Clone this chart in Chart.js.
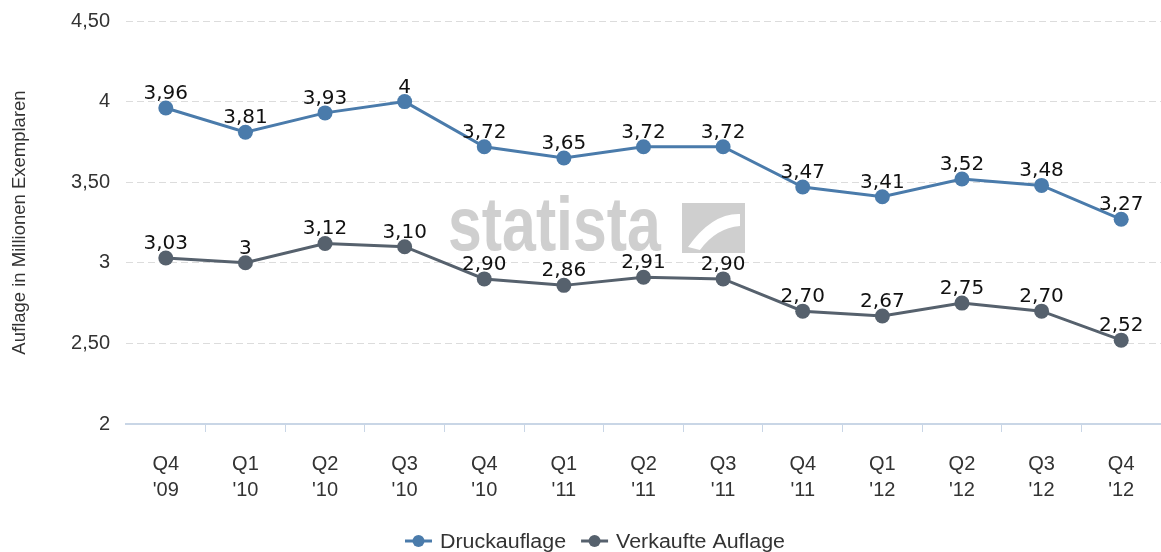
<!DOCTYPE html>
<html>
<head>
<meta charset="utf-8">
<script src="https://cdn.jsdelivr.net/npm/chart.js@4.4.1/dist/chart.umd.min.js"></script>
<style>
  html, body { margin: 0; padding: 0; background: #fff; overflow: hidden; }
  #wrap { width: 1161px; height: 552px; }
</style>
</head>
<body>
<div id="wrap"><canvas id="chart"></canvas></div>
<script>
// Quarterly circulation, millions of copies
const QUARTERS = [
  ['Q4', "'09"], ['Q1', "'10"], ['Q2', "'10"], ['Q3', "'10"], ['Q4', "'10"],
  ['Q1', "'11"], ['Q2', "'11"], ['Q3', "'11"], ['Q4', "'11"],
  ['Q1', "'12"], ['Q2', "'12"], ['Q3', "'12"], ['Q4', "'12"],
];
const DRUCKAUFLAGE = [3.96, 3.81, 3.93, 4, 3.72, 3.65, 3.72, 3.72, 3.47, 3.41, 3.52, 3.48, 3.27];
const VERKAUFTE = [3.03, 3, 3.12, 3.10, 2.90, 2.86, 2.91, 2.90, 2.70, 2.67, 2.75, 2.70, 2.52];
const Y_TICKS = [2, 2.5, 3, 3.5, 4, 4.5];

const BLUE = '#4a7bab';
const GREY = '#56616d';
const TEXT = '#333333';
const AXIS = '#c9d6e6';

function fmt(v) {
  return Number.isInteger(v) ? String(v) : v.toFixed(2).replace('.', ',');
}

// value above every point
const valueLabels = {
  id: 'valueLabels',
  afterDatasetsDraw(chart) {
    const ctx = chart.ctx;
    ctx.save();
    ctx.font = '20px "DejaVu Sans"';
    ctx.fillStyle = '#111';
    ctx.textAlign = 'center';
    ctx.textBaseline = 'alphabetic';
    chart.data.datasets.forEach((ds, i) => {
      chart.getDatasetMeta(i).data.forEach((pt, j) => {
        ctx.fillText(fmt(ds.data[j]), pt.x, pt.y - 9);
      });
    });
    ctx.restore();
  }
};

// faint statista mark behind the lines
const watermark = {
  id: 'watermark',
  beforeDatasetsDraw(chart) {
    const ctx = chart.ctx;
    ctx.save();
    ctx.fillStyle = 'rgba(195,195,195,0.8)';
    ctx.font = 'bold 76px "Liberation Sans"';
    ctx.translate(448, 250);
    ctx.scale(0.8, 1);
    ctx.fillText('statista', 0, 0);
    ctx.restore();
    ctx.save();
    ctx.fillStyle = 'rgba(195,195,195,0.8)';
    ctx.fillRect(682, 203, 63, 50);
    ctx.fillStyle = '#fff';
    ctx.beginPath();
    ctx.moveTo(688, 247);
    ctx.quadraticCurveTo(712, 213, 740, 214);
    ctx.lineTo(740, 226);
    ctx.quadraticCurveTo(716, 228, 700, 250);
    ctx.closePath();
    ctx.fill();
    ctx.restore();
  }
};

// line+dot legend along the bottom
const bottomLegend = {
  id: 'bottomLegend',
  afterDraw(chart) {
    const ctx = chart.ctx;
    const sx = 1.07;
    ctx.save();
    ctx.font = '20px "Liberation Sans"';
    ctx.textBaseline = 'middle';
    const items = chart.data.datasets.map(ds => ({ ds, w: 27 + 8 + ctx.measureText(ds.label).width * sx }));
    const gap = 15;
    const total = items.reduce((s, it) => s + it.w, 0) + gap * (items.length - 1);
    let x = 595 - total / 2;
    const y = 541;
    items.forEach(({ ds, w }) => {
      ctx.strokeStyle = ds.borderColor;
      ctx.lineWidth = 3;
      ctx.beginPath(); ctx.moveTo(x, y); ctx.lineTo(x + 27, y); ctx.stroke();
      ctx.fillStyle = ds.borderColor;
      ctx.beginPath(); ctx.arc(x + 13.5, y, 6, 0, Math.PI * 2); ctx.fill();
      ctx.fillStyle = TEXT;
      ctx.save();
      ctx.translate(x + 35, y + 1);
      ctx.scale(sx, 1);
      ctx.fillText(ds.label, 0, 0);
      ctx.restore();
      x += w + gap;
    });
    ctx.restore();
  }
};

new Chart(document.getElementById('chart'), {
  type: 'line',
  data: {
    labels: QUARTERS,
    datasets: [
      {
        label: 'Druckauflage', data: DRUCKAUFLAGE,
        borderColor: BLUE, backgroundColor: BLUE, pointBackgroundColor: BLUE,
        borderWidth: 3, pointRadius: 7.5, pointBorderWidth: 0, tension: 0,
      },
      {
        label: 'Verkaufte Auflage', data: VERKAUFTE,
        borderColor: GREY, backgroundColor: GREY, pointBackgroundColor: GREY,
        borderWidth: 3, pointRadius: 7.5, pointBorderWidth: 0, tension: 0,
      },
    ],
  },
  options: {
    responsive: true,
    maintainAspectRatio: false,
    animation: false,
    layout: { autoPadding: false, padding: { top: 21, right: 0, left: 0, bottom: 0 } },
    plugins: {
      tooltip: { enabled: false },
      legend: { display: false },
    },
    scales: {
      x: {
        offset: true,
        grid: {
          drawOnChartArea: false, offset: true, tickLength: 8, lineWidth: 1,
          color: c => (c.index === 0 ? 'rgba(0,0,0,0)' : AXIS),
        },
        border: { color: AXIS, width: 2 },
        ticks: {
          color: TEXT, padding: 19, maxRotation: 0,
          font: { family: 'Liberation Sans', size: 20, lineHeight: 1.3 },
        },
        afterFit(scale) { scale.height = 128; },
      },
      y: {
        min: 2, max: 4.5,
        afterBuildTicks(scale) { scale.ticks = Y_TICKS.map(v => ({ value: v })); },
        grid: { color: '#dcdcdc', drawTicks: false },
        border: { display: false, dash: [7, 4] },
        ticks: {
          color: TEXT, padding: 16,
          font: { family: 'Liberation Sans', size: 20 },
          callback: v => fmt(v),
        },
        title: {
          display: true, text: 'Auflage in Millionen Exemplaren', color: TEXT,
          font: { family: 'Liberation Sans', size: 18.5 }, padding: { top: 9, bottom: 0 },
        },
        afterFit(scale) {
          scale.width = 126;
          scale.paddingTop = 0;
          scale.paddingBottom = 0;
        },
      },
    },
  },
  plugins: [watermark, valueLabels, bottomLegend],
});
</script>
</body>
</html>
